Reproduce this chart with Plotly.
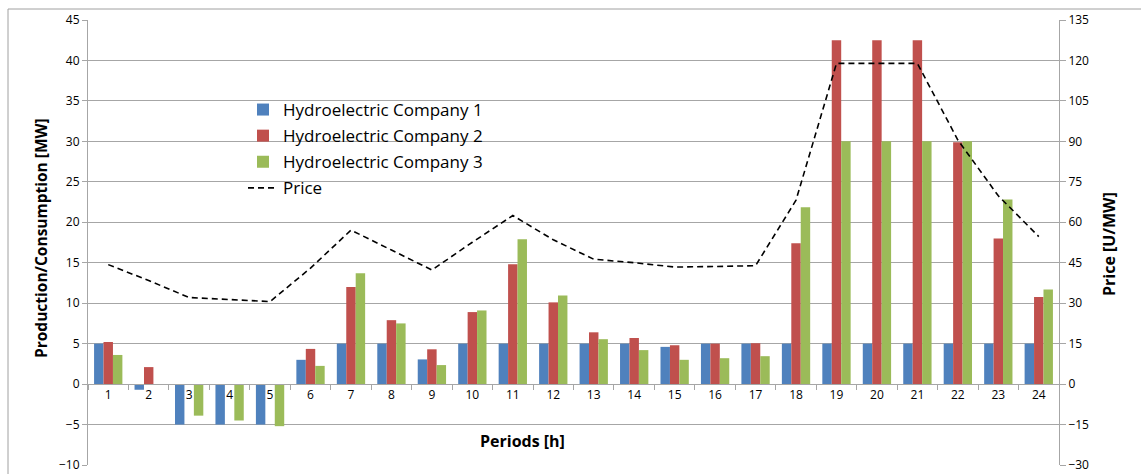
import plotly.graph_objects as go

# Hourly periods
periods = [str(h) for h in range(1, 25)]

# Production (+) / consumption (-) per company [MW]
company1 = [5, -0.7, -5, -5, -5, 3.0, 5, 5, 3.05, 5, 5, 5,
            5, 5, 4.6, 5, 5, 5, 5, 5, 5, 5, 5, 5]
company2 = [5.2, 2.1, 0, 0, 0, 4.35, 12, 7.9, 4.3, 8.9, 14.8, 10.1,
            6.4, 5.7, 4.8, 5, 5.05, 17.4, 42.5, 42.5, 42.5, 29.9, 18, 10.75]
company3 = [3.6, 0, -3.9, -4.5, -5.2, 2.25, 13.7, 7.5, 2.35, 9.1, 17.9, 10.95,
            5.55, 4.2, 3.0, 3.2, 3.45, 21.85, 30, 30, 30, 30, 22.8, 11.7]

# Energy price [U/MW]
price = [44.3, 38.4, 32.1, 31.4, 30.6, 43, 57.1, 49.7, 42.3, 52.6, 62.5, 53.5,
         46.3, 45.0, 43.4, 43.6, 43.9, 68.2, 118.9, 118.9, 118.9, 90.5, 69.8, 54.7]

left_range = [-10, 45]
right_range = [-30, 135]

W, H = 1141, 474
ML, MR, MT, MB = 88, 82, 20, 9
PW, PH = W - ML - MR, H - MT - MB

def px_x(p):
    return (p - ML) / PW

def px_y(p):
    return (H - MB - p) / PH

FONT = "Open Sans"
GRID = "#a6a6a6"

fig = go.Figure()
for name, vals, color in [
    ("Hydroelectric Company 1", company1, "#4F81BD"),
    ("Hydroelectric Company 2", company2, "#C0504D"),
    ("Hydroelectric Company 3", company3, "#9BBB59"),
]:
    fig.add_trace(go.Bar(x=periods, y=vals, name=name, marker_color=color,
                         marker_line_width=0, legendgroup=name))

fig.add_trace(go.Scatter(x=periods, y=price, name="Price", yaxis="y2",
                         mode="lines", legendgroup="Price",
                         line=dict(color="black", width=1.6, dash="6px,4px")))

zero_pos = (0 - left_range[0]) / (left_range[1] - left_range[0])

fig.update_layout(
    width=W, height=H,
    margin=dict(l=ML, r=MR, t=MT, b=MB, autoexpand=False),
    paper_bgcolor="white", plot_bgcolor="white",
    font=dict(family=FONT, size=12, color="#000000"),
    barmode="group", bargap=0.3, bargroupgap=0,
    xaxis=dict(type="category", range=[-0.5, 23.5], tickson="boundaries",
               ticks="outside", ticklen=5, tickcolor=GRID, showline=True,
               linecolor=GRID, linewidth=1, showgrid=False,
               anchor="free", position=zero_pos, automargin=False,
               tickfont=dict(size=12, color="#000")),
    yaxis=dict(range=left_range, dtick=5, showgrid=True, gridcolor=GRID,
               gridwidth=1, zeroline=False, showline=True, linecolor=GRID,
               ticks="outside", ticklen=5, tickcolor=GRID, automargin=False,
               tickfont=dict(size=12, color="#000")),
    yaxis2=dict(range=right_range, dtick=15, overlaying="y", side="right",
                showgrid=False, zeroline=False, showline=True, linecolor=GRID,
                ticks="outside", ticklen=6, tickcolor=GRID, automargin=False,
                tickfont=dict(size=12, color="#000")),
    legend=dict(x=px_x(243), y=px_y(92), xanchor="left", yanchor="top",
                bgcolor="rgba(0,0,0,0)", font=dict(size=17, color="#000"),
                tracegroupgap=1, itemwidth=30),
    showlegend=True,
)

title_font = dict(size=16, color="#000")
fig.add_annotation(text="<b>Periods [h]</b>", xref="paper", yref="paper",
                   x=px_x(522), y=px_y(441), xanchor="center",
                   yanchor="middle", showarrow=False, font=title_font)
fig.add_annotation(text="<b>Production/Consumption [MW]</b>", xref="paper",
                   yref="paper", x=px_x(41), y=px_y(238), textangle=-90,
                   xanchor="center", yanchor="middle", showarrow=False,
                   font=dict(size=15.5, color="#000"))
fig.add_annotation(text="<b>Price [U/MW]</b>", xref="paper", yref="paper",
                   x=px_x(1109), y=px_y(244), textangle=-90,
                   xanchor="center", yanchor="middle", showarrow=False,
                   font=title_font)

# Outer chart frame
fig.add_shape(type="rect", xref="paper", yref="paper",
              x0=px_x(8), x1=px_x(1145), y0=px_y(480), y1=px_y(9),
              line=dict(color="#a0a0a0", width=1), layer="below")

fig.write_html("out.html")
